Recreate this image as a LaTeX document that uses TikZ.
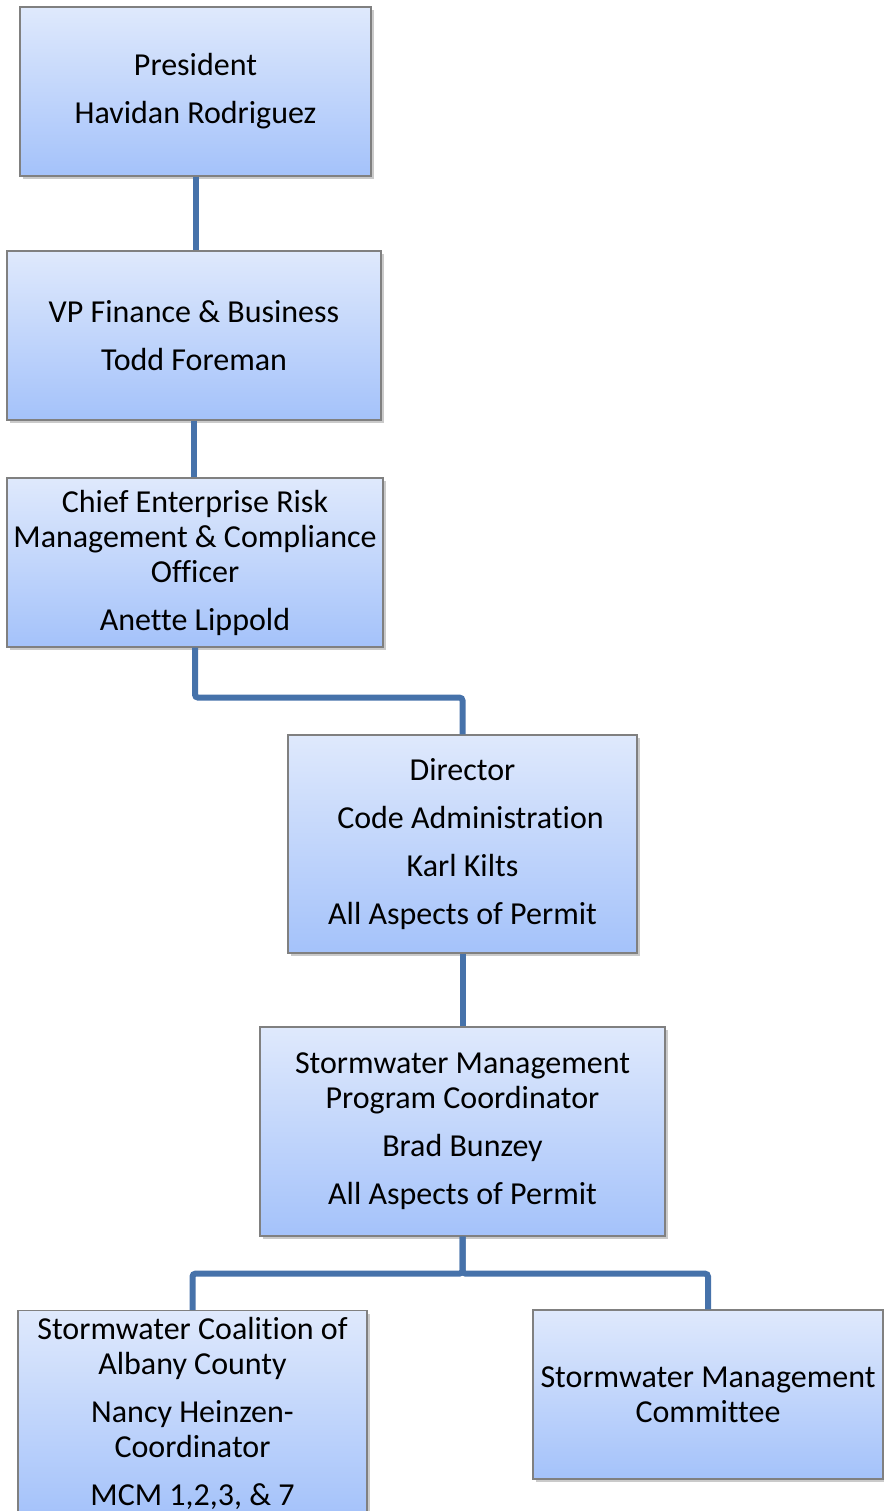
\documentclass[tikz,border=0pt]{standalone}
\usepackage{fontspec}
\setmainfont[Ligatures={NoCommon}]{Carlito}
\usetikzlibrary{shadows}
\definecolor{boxtop}{HTML}{DFE9FC}
\definecolor{boxbot}{HTML}{A4C2FA}
\definecolor{boxline}{HTML}{808080}
\definecolor{linkblue}{HTML}{4672AA}
\tikzset{
  orgbox/.style={draw=boxline, line width=1.2pt, top color=boxtop, bottom color=boxbot,
    align=center, font=\fontsize{32}{35}\selectfont,
    drop shadow={shadow xshift=3pt, shadow yshift=-3pt, opacity=0.35, fill=black!60}},
  link/.style={draw=linkblue, line width=6pt, rounded corners=3pt}
}
\begin{document}
\begin{tikzpicture}[x=1pt,y=-1pt]
\useasboundingbox (0,0) rectangle (883,1511);
% top of the chart
\node[orgbox, minimum width=351, minimum height=169] (pres) at (195.5,91.5)
  {President\\[13pt]Havidan Rodriguez};
\node[orgbox, minimum width=374, minimum height=169] (vp) at (194,335.5)
  {VP Finance \& Business\\[13pt]Todd Foreman};
\node[orgbox, minimum width=376, minimum height=169] (chief) at (195,562.5)
  {Chief Enterprise Risk\\Management \& Compliance\\Officer\\[13pt]Anette Lippold};
% middle
\node[orgbox, minimum width=349, minimum height=218] (dir) at (462.5,844)
  {Director\\[13pt]\hspace*{16pt}Code Administration\\[13pt]Karl Kilts\\[13pt]All Aspects of Permit};
\node[orgbox, minimum width=405, minimum height=209] (coord) at (462.5,1131.5)
  {Stormwater Management\\Program Coordinator\\[13pt]Brad Bunzey\\[13pt]All Aspects of Permit};
% bottom
\node[orgbox, minimum width=349, anchor=north, inner ysep=7pt] (coal) at (192.5,1310)
  {Stormwater Coalition of\\Albany County\\[13pt]Nancy Heinzen-\\Coordinator\\[13pt]MCM 1,2,3, \& 7};
\node[orgbox, minimum width=350, minimum height=169] (comm) at (708,1394.5)
  {Stormwater Management\\Committee};
% lines
\draw[link] (pres.south) -- (pres.south |- vp.north);
\draw[link] (vp.south) -- (vp.south |- chief.north);
\draw[link] (chief.south) -- ++(0,50) -| (dir.north);
\draw[link] (dir.south) -- (dir.south |- coord.north);
\draw[link] (coord.south) -- ++(0,37) -| (coal.north);
\draw[link] (coord.south) -- ++(0,37) -| (comm.north);
\end{tikzpicture}
\end{document}
